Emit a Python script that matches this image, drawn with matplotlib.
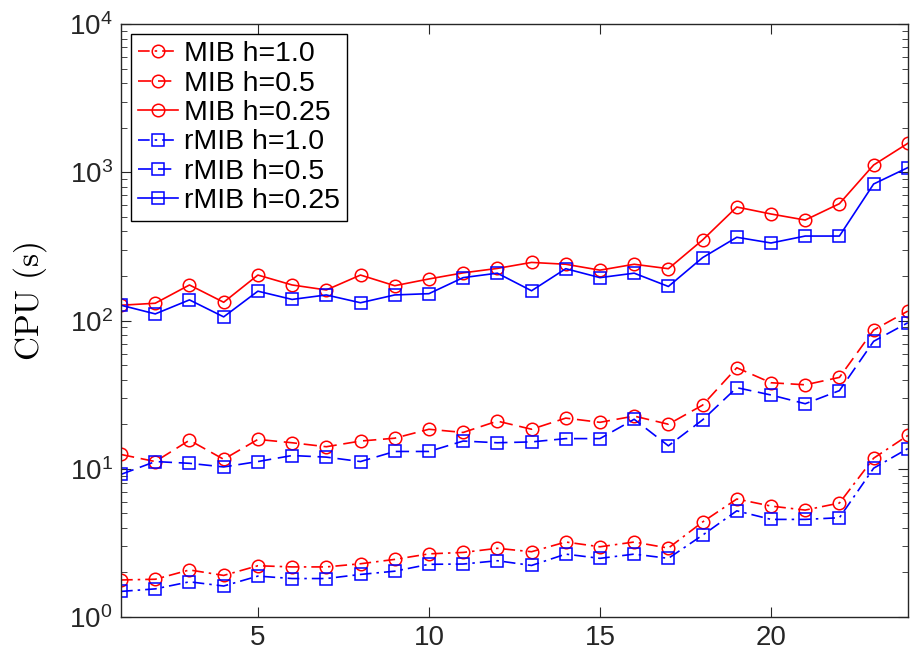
import matplotlib
matplotlib.use("Agg")
import matplotlib.pyplot as plt
import numpy as np
from matplotlib.ticker import LogLocator, FixedLocator, NullLocator

plt.rcParams['font.family'] = ['Liberation Sans', 'DejaVu Sans']
plt.rcParams['mathtext.fontset'] = 'cm'

# problem index
problems = list(range(1, 25))

# CPU time (s), MIB
mib_h10 = [1.78, 1.80, 2.08, 1.91, 2.22, 2.18, 2.18, 2.29, 2.45, 2.67, 2.73, 2.91,
           2.76, 3.21, 2.98, 3.21, 2.92, 4.38, 6.26, 5.61, 5.27, 5.88, 11.8, 16.8]
mib_h05 = [12.5, 11.2, 15.6, 11.6, 15.8, 15.0, 14.1, 15.4, 16.1, 18.5, 17.6, 21.0,
           18.5, 22.0, 20.6, 22.7, 20.0, 26.9, 48.1, 38.1, 36.9, 41.4, 86.4, 116]
mib_h025 = [127, 131, 174, 133, 203, 174, 161, 203, 172, 191, 210, 225,
            247, 240, 219, 240, 224, 350, 584, 524, 477, 615, 1122, 1571]

# CPU time (s), rMIB
rmib_h10 = [1.49, 1.55, 1.73, 1.62, 1.89, 1.82, 1.82, 1.94, 2.04, 2.27, 2.28, 2.40,
            2.23, 2.66, 2.49, 2.66, 2.49, 3.57, 5.21, 4.56, 4.56, 4.68, 10.1, 13.7]
rmib_h05 = [9.18, 11.2, 10.9, 10.3, 11.2, 12.3, 12.0, 11.2, 13.1, 13.1, 15.4, 15.0,
            15.2, 16.0, 16.0, 21.6, 14.3, 21.4, 35.3, 31.5, 27.5, 33.7, 72.5, 96.8]
rmib_h025 = [127, 111, 138, 106, 158, 139, 149, 132, 149, 152, 195, 209,
             159, 224, 195, 209, 170, 266, 365, 334, 372, 372, 835, 1077]

dashdot = (0, (7, 3, 1.5, 3))
dashed = (0, (8, 4))

fig = plt.figure(figsize=(9.17, 6.53), dpi=100)
ax = fig.add_axes([0.132, 0.055, 0.858, 0.908])

lw = 1.2
ax.plot(problems, mib_h10, color='red', ls=dashdot, lw=lw, marker='o', ms=9, mfc='none', mew=1.1, label='MIB h=1.0')
ax.plot(problems, mib_h05, color='red', ls=dashed, lw=lw, marker='o', ms=9, mfc='none', mew=1.1, label='MIB h=0.5')
ax.plot(problems, mib_h025, color='red', ls='-', lw=lw, marker='o', ms=9, mfc='none', mew=1.1, label='MIB h=0.25')
ax.plot(problems, rmib_h10, color='blue', ls=dashdot, lw=lw, marker='s', ms=8, mfc='none', mew=1.1, label='rMIB h=1.0')
ax.plot(problems, rmib_h05, color='blue', ls=dashed, lw=lw, marker='s', ms=8, mfc='none', mew=1.1, label='rMIB h=0.5')
ax.plot(problems, rmib_h025, color='blue', ls='-', lw=lw, marker='s', ms=8, mfc='none', mew=1.1, label='rMIB h=0.25')

ax.set_yscale('log')
ax.set_xlim(1, 24)
ax.set_ylim(1, 1e4)
ax.xaxis.set_major_locator(FixedLocator([5, 10, 15, 20]))
ax.xaxis.set_minor_locator(NullLocator())
ax.yaxis.set_major_locator(LogLocator(base=10, numticks=10))
ax.yaxis.set_minor_locator(LogLocator(base=10, subs=np.arange(2, 10), numticks=10))

edge = '#262626'
for s in ax.spines.values():
    s.set_color(edge)
    s.set_linewidth(1.0)
ax.tick_params(which='both', direction='in', top=True, right=True, color=edge)
ax.tick_params(which='major', length=7, labelsize=20, pad=6, labelcolor='#262626')
ax.tick_params(which='minor', length=4)
ax.tick_params(axis='x', pad=6)

ax.set_ylabel(r'$\mathrm{CPU\ (s)}$', fontsize=24)
ax.yaxis.set_label_coords(-0.092, 0.533)

leg = ax.legend(loc='upper left', fontsize=20.5, frameon=True, fancybox=False,
                edgecolor='black', framealpha=1, borderaxespad=0.35,
                handlelength=1.4, handletextpad=0.2, labelspacing=0.12,
                borderpad=0.25)
leg.get_frame().set_linewidth(1.0)

fig.savefig('out.png', dpi=100)
